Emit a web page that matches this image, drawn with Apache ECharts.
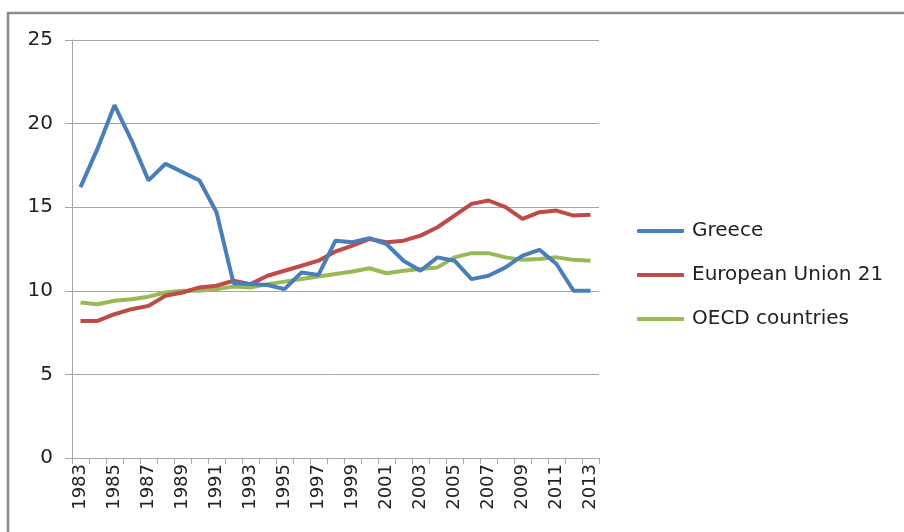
<!DOCTYPE html>
<html>
<head>
<meta charset="utf-8">
<script src="https://cdn.jsdelivr.net/npm/echarts@6/dist/echarts.min.js"></script>
<style>
  html, body { margin: 0; padding: 0; background: #fff; }
  #chart { width: 904px; height: 532px; }
</style>
</head>
<body>
<div id="chart"></div>
<script>
// years on the x axis
var years = ["1983", "1984", "1985", "1986", "1987", "1988", "1989", "1990", "1991", "1992",
    "1993", "1994", "1995", "1996", "1997", "1998", "1999", "2000", "2001", "2002",
    "2003", "2004", "2005", "2006", "2007", "2008", "2009", "2010", "2011", "2012", "2013"];

var greece = [16.2, 18.5, 21.1, 19.0, 16.6, 17.6, 17.1, 16.6, 14.7, 10.45,
    10.4, 10.35, 10.1, 11.1, 10.95, 13.0, 12.9, 13.15, 12.8, 11.8,
    11.2, 12.0, 11.8, 10.7, 10.9, 11.4, 12.1, 12.45, 11.6, 10.0, 10.0];

var eu21 = [8.2, 8.2, 8.6, 8.9, 9.1, 9.7, 9.9, 10.2, 10.3, 10.6,
    10.4, 10.9, 11.2, 11.5, 11.8, 12.35, 12.7, 13.1, 12.9, 13.0,
    13.3, 13.8, 14.5, 15.2, 15.4, 15.0, 14.3, 14.7, 14.8, 14.5, 14.55];

var oecd = [9.3, 9.2, 9.4, 9.5, 9.65, 9.9, 10.0, 10.0, 10.1, 10.25,
    10.2, 10.4, 10.55, 10.7, 10.85, 11.0, 11.15, 11.35, 11.05, 11.2,
    11.3, 11.4, 12.0, 12.25, 12.25, 12.0, 11.85, 11.9, 12.0, 11.85, 11.8];

var seriesNames = ["Greece", "European Union 21", "OECD countries"];

var mychart = echarts.init(document.getElementById("chart"));
var font = "DejaVu Sans";
var gridColor = "#a6a6a6";

var option = {
    animation: false,
    color: ["#4a7ebb", "#be4b48", "#98b954"],
    graphic: [{
        // outer frame, only top and left edges are visible
        type: "rect",
        shape: { x: 8, y: 13, width: 1200, height: 1000 },
        style: { fill: "none", stroke: "#8c8c8c", lineWidth: 2.5 },
        silent: true
    }],
    legend: {
        orient: "vertical",
        left: 637,
        top: 221,
        padding: 0,
        itemWidth: 47,
        itemHeight: 4,
        itemGap: 24,
        icon: "roundRect",
        data: seriesNames,
        textStyle: {
            fontFamily: font,
            fontSize: 20,
            color: "#222",
            padding: [0, 0, 0, 3],
            lineHeight: 20
        }
    },
    grid: {
        left: 72,
        right: 305,
        top: 40,
        bottom: 74
    },
    xAxis: {
        type: "category",
        data: years,
        boundaryGap: true,
        axisLine: { lineStyle: { color: gridColor, width: 1 } },
        axisTick: {
            show: true,
            interval: 0,
            length: 6,
            lineStyle: { color: gridColor }
        },
        axisLabel: {
            interval: 1,
            rotate: 90,
            margin: 6,
            fontFamily: font,
            fontSize: 18,
            color: "#222"
        },
        splitLine: { show: false }
    },
    yAxis: {
        type: "value",
        min: 0,
        max: 25,
        interval: 5,
        axisLine: { show: true, lineStyle: { color: gridColor, width: 1 } },
        axisTick: { show: true, length: 7, lineStyle: { color: gridColor } },
        axisLabel: {
            margin: 19,
            fontFamily: font,
            fontSize: 20,
            color: "#222"
        },
        splitLine: { lineStyle: { color: gridColor, width: 1 } }
    },
    series: [{
        name: seriesNames[0],
        type: "line",
        data: greece,
        symbol: "none",
        lineStyle: { width: 4 },
        z: 3
    }, {
        name: seriesNames[1],
        type: "line",
        data: eu21,
        symbol: "none",
        lineStyle: { width: 4 },
        z: 2
    }, {
        name: seriesNames[2],
        type: "line",
        data: oecd,
        symbol: "none",
        lineStyle: { width: 4 },
        z: 1
    }]
};

mychart.setOption(option);
</script>
</body>
</html>
